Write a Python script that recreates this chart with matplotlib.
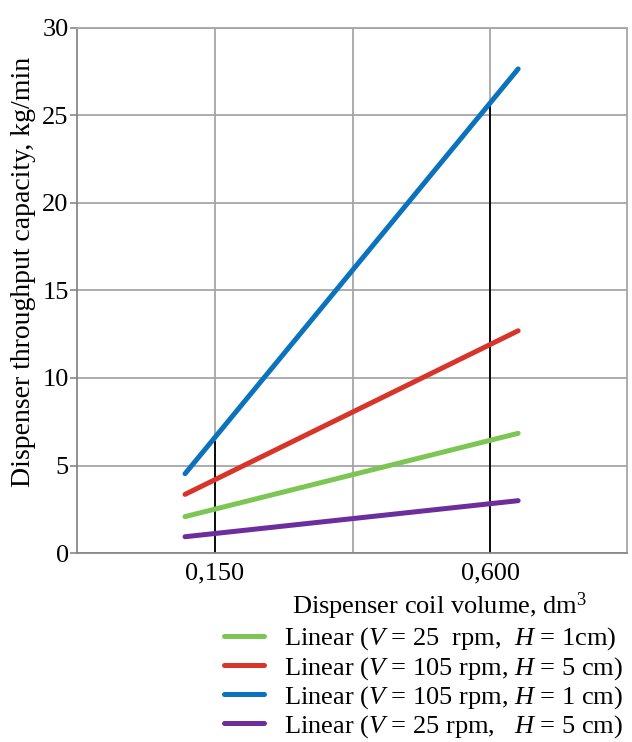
import numpy as np
import matplotlib
matplotlib.use("Agg")
import matplotlib.pyplot as plt

plt.rcParams['font.family'] = ['Liberation Serif', 'DejaVu Serif']
plt.rcParams['mathtext.fontset'] = 'custom'
plt.rcParams['mathtext.rm'] = 'Liberation Serif'
plt.rcParams['mathtext.it'] = 'Liberation Serif:italic'

# coil volume, dm3 (ends of the trend lines)
x_ends = [0.101, 0.646]
green = [2.08, 6.84]
red = [3.35, 12.70]
blue = [4.53, 27.66]
purple = [0.93, 2.99]
labels = ['Linear ($V$ = 25  rpm,  $H$ = 1cm)',
          'Linear ($V$ = 105 rpm, $H$ = 5 cm)',
          'Linear ($V$ = 105 rpm, $H$ = 1 cm)',
          'Linear ($V$ = 25 rpm,   $H$ = 5 cm)']
colors = ['#7cc653', '#d8352a', '#0b72bd', '#6b2e9c']
mark_x = [0.15, 0.6]
mark_h = [6.4, 25.7]
grid_x = [0.15, 0.375, 0.6]
tick_lab = ['0,150', '', '0,600']

fs = 19

fig = plt.figure(figsize=(6.32, 7.42), dpi=100)
ax = fig.add_axes([0.1218, 0.2547, 0.8702, 0.7076])

lines = []
for ys, c, lab in zip([green, red, blue, purple], colors, labels):
    l, = ax.plot(x_ends, ys, color=c, lw=3.6, solid_capstyle='round', label=lab, zorder=3)
    lines.append(l)

ax.vlines(mark_x, 0, mark_h, color='black', lw=1.3, zorder=2)

ax.set_xlim(-0.0758, 0.824)
ax.set_ylim(0, 30)
ax.set_yticks(np.arange(0, 31, 5))
ax.set_xticks(grid_x)
ax.set_xticklabels(tick_lab)
ax.grid(True, color='#a6a6a6', lw=1.3, zorder=0)
ax.tick_params(axis='y', length=5, width=1.2, color='#888888', labelsize=fs, pad=1)
ax.tick_params(axis='x', length=0, labelsize=fs, pad=7)
for s in ax.spines.values():
    s.set_color('#a6a6a6')
    s.set_linewidth(1.3)
ax.spines['left'].set_color('#888888')
ax.spines['bottom'].set_color('#888888')

ax.set_ylabel('Dispenser throughput capacity, kg/min', fontsize=20)
ax.yaxis.set_label_coords(-0.075, 0.536)
fig.text(0.695, 0.183, 'Dispenser coil volume, dm$^3$', fontsize=fs, ha='center', va='center')

fig.legend(handles=lines, loc='upper left', bbox_to_anchor=(0.355, 0.157),
           frameon=False, fontsize=fs, handlelength=1.5, handletextpad=0.75,
           labelspacing=0.09, borderaxespad=0, borderpad=0)

fig.savefig('out.png', dpi=100)
